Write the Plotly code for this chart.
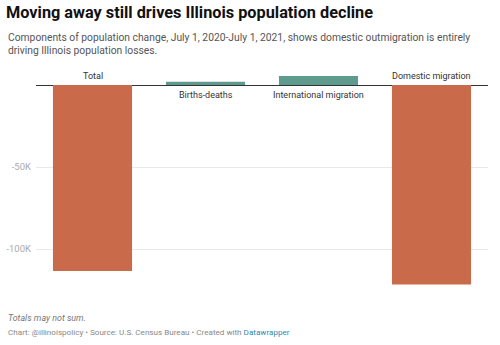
import plotly.graph_objects as go

categories = ["Total", "Births-deaths", "International migration", "Domestic migration"]
values = [-113400, 2100, 5500, -121700]
colors = ["#c96a4b", "#5e9a8d", "#5e9a8d", "#c96a4b"]
tick_vals = [-50000, -100000]
tick_text = ["-50K", "-100K"]

W, H = 500, 345
ML, MR, MT, MB = 36, 12, 72.4, 54.5
PW, PH = W - ML - MR, H - MT - MB

def px(x):
    return (x - ML) / PW

def py(y):
    return (H - MB - y) / PH

FONT = "Roboto"

fig = go.Figure()
fig.add_trace(go.Bar(
    x=categories, y=values, marker=dict(color=colors, line=dict(width=0)),
    width=0.70, hoverinfo="skip",
))

annotations = []
for c, v in zip(categories, values):
    if v < 0:
        annotations.append(dict(x=c, y=0, xref="x", yref="y", text=c, showarrow=False,
                                yanchor="bottom", yshift=2,
                                font=dict(family=FONT, size=9, color="#333333")))
    else:
        annotations.append(dict(x=c, y=0, xref="x", yref="y", text=c, showarrow=False,
                                yanchor="top", yshift=-3,
                                font=dict(family=FONT, size=9, color="#333333")))

annotations.append(dict(
    x=px(6), y=py(29), xref="paper", yref="paper", xanchor="left", yanchor="top",
    align="left", showarrow=False,
    text="Components of population change, July 1, 2020-July 1, 2021, shows domestic outmigration is entirely<br>driving Illinois population losses.",
    font=dict(family=FONT, size=10.3, color="#555555"),
))
annotations.append(dict(
    x=px(6), y=py(319), xref="paper", yref="paper", xanchor="left", yanchor="middle",
    showarrow=False, text="<i>Totals may not sum.</i>",
    font=dict(family=FONT, size=8.9, color="#777777"),
))
annotations.append(dict(
    x=px(6), y=py(333), xref="paper", yref="paper", xanchor="left", yanchor="middle",
    showarrow=False,
    text="Chart: @illinoispolicy • Source: U.S. Census Bureau • Created with <span style='color:#2a8bb0'>Datawrapper</span>",
    font=dict(family=FONT, size=8.1, color="#888888"),
))

fig.update_layout(
    width=W, height=H,
    margin=dict(l=ML, r=MR, t=MT, b=MB, pad=0, autoexpand=False),
    paper_bgcolor="white", plot_bgcolor="white",
    showlegend=False,
    title=dict(text="<b>Moving away still drives Illinois population decline</b>",
               x=6 / W, xref="container", xanchor="left",
               y=1 - 12 / H, yref="container", yanchor="middle",
               font=dict(family=FONT, size=16.3, color="#111111")),
    annotations=annotations,
    xaxis=dict(range=[-0.5, 3.5], showticklabels=False, showgrid=False, zeroline=False,
               showline=False, ticks="", automargin=False),
    yaxis=dict(range=[-125000, 8000], tickvals=tick_vals, ticktext=tick_text,
               showgrid=True, gridcolor="#e8e8e8", gridwidth=1,
               zeroline=True, zerolinecolor="#333333", zerolinewidth=1,
               showline=False, ticks="", ticklabelstandoff=4, automargin=False,
               tickfont=dict(family=FONT, size=9.5, color="#aaaaaa")),
)

fig.write_html("out.html")
